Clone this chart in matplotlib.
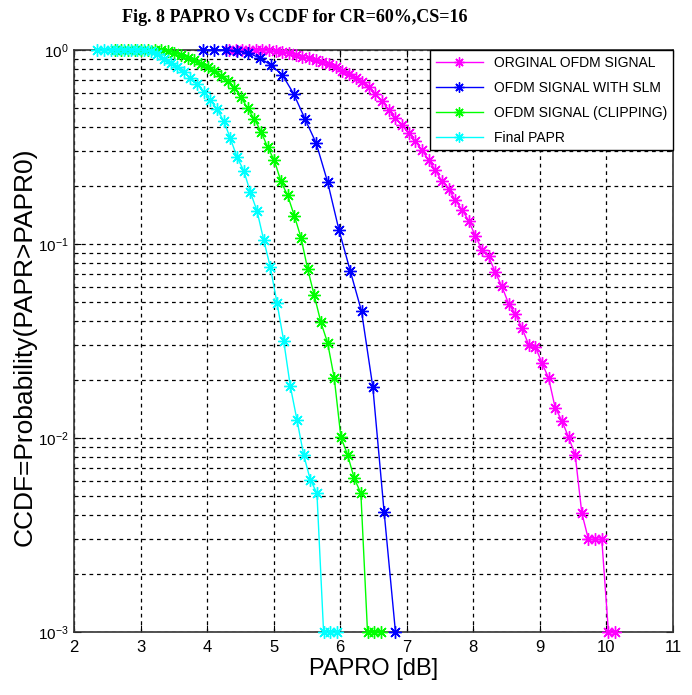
import matplotlib
matplotlib.use("Agg")
import matplotlib.pyplot as plt
from matplotlib.ticker import LogLocator, NullFormatter, FixedLocator

# ---------------- data ----------------
orig_x = [4.33, 4.43, 4.53, 4.63, 4.73, 4.83, 4.93, 5.03, 5.13, 5.23, 5.33, 5.43,
          5.53, 5.63, 5.73, 5.83, 5.93, 6.03, 6.13, 6.23, 6.33, 6.43, 6.53, 6.63,
          6.73, 6.83, 6.93, 7.03, 7.13, 7.23, 7.33, 7.43, 7.53, 7.63, 7.73, 7.83,
          7.93, 8.03, 8.13, 8.23, 8.33, 8.43, 8.53, 8.63, 8.73, 8.83, 8.93, 9.03,
          9.13, 9.23, 9.33, 9.43, 9.53, 9.63, 9.73, 9.83, 9.93, 10.03, 10.13]
orig_y = [1.0, 1.0, 1.0, 1.0, 1.0, 1.0, 0.995, 0.99, 0.98, 0.965, 0.945, 0.925,
          0.905, 0.89, 0.87, 0.845, 0.815, 0.78, 0.75, 0.715, 0.68, 0.645, 0.59, 0.545,
          0.49, 0.446, 0.41, 0.374, 0.338, 0.304, 0.27, 0.24, 0.21, 0.192, 0.168, 0.150,
          0.132, 0.110, 0.0935, 0.0863, 0.0714, 0.0604, 0.0492, 0.0437, 0.0370, 0.0303, 0.0296, 0.0244,
          0.0204, 0.0143, 0.0123, 0.0101, 0.0082, 0.0041, 0.003, 0.003, 0.003, 0.001, 0.001]

slm_x = [3.94, 4.11, 4.28, 4.45, 4.62, 4.79, 4.96, 5.13, 5.30, 5.47, 5.64, 5.81,
         5.98, 6.15, 6.32, 6.49, 6.66, 6.83]
slm_y = [1.0, 1.0, 1.0, 0.99, 0.965, 0.91, 0.835, 0.745, 0.595, 0.442, 0.33, 0.209,
         0.1185, 0.0728, 0.045, 0.0183, 0.00414, 0.001]

clip_x = [2.61, 2.71, 2.81, 2.91, 3.01, 3.11, 3.21, 3.31, 3.41, 3.51, 3.61, 3.71,
          3.81, 3.91, 4.01, 4.11, 4.21, 4.31, 4.41, 4.51, 4.61, 4.71, 4.81, 4.91,
          5.01, 5.11, 5.21, 5.31, 5.41, 5.51, 5.61, 5.71, 5.81, 5.91, 6.01, 6.11,
          6.21, 6.31, 6.41, 6.51, 6.61]
clip_y = [1.0, 1.0, 1.0, 1.0, 1.0, 1.0, 1.0, 1.0, 0.99, 0.97, 0.94, 0.91,
          0.885, 0.85, 0.815, 0.775, 0.735, 0.69, 0.64, 0.57, 0.50, 0.44, 0.38, 0.315,
          0.27, 0.21, 0.178, 0.14, 0.108, 0.0746, 0.0543, 0.0394, 0.031, 0.0204, 0.0101, 0.0082,
          0.0062, 0.0052, 0.001, 0.001, 0.001]

final_x = [2.35, 2.45, 2.55, 2.65, 2.75, 2.85, 2.95, 3.05, 3.15, 3.25, 3.35, 3.45,
           3.55, 3.65, 3.75, 3.85, 3.95, 4.05, 4.15, 4.25, 4.35, 4.45, 4.55, 4.65,
           4.75, 4.85, 4.95, 5.05, 5.15, 5.25, 5.35, 5.45, 5.55, 5.65, 5.75, 5.85, 5.95]
final_y = [1.0, 1.0, 1.0, 1.0, 1.0, 1.0, 1.0, 0.995, 0.985, 0.955, 0.90, 0.86,
           0.82, 0.77, 0.72, 0.665, 0.61, 0.55, 0.495, 0.43, 0.35, 0.28, 0.239, 0.185,
           0.148, 0.105, 0.076, 0.0497, 0.0318, 0.0185, 0.0124, 0.0082, 0.0061, 0.0052, 0.001, 0.001, 0.001]

labels = ["ORGINAL OFDM SIGNAL", "OFDM SIGNAL WITH SLM", "OFDM SIGNAL (CLIPPING)", "Final PAPR"]
colors = ["#ff00ff", "#0000ff", "#00ff00", "#00ffff"]
x_ticks = [2, 3, 4, 5, 6, 7, 8, 9, 10, 11]

# ---------------- figure ----------------
plt.rcParams['font.family'] = ['Liberation Sans', 'DejaVu Sans']
fig = plt.figure(figsize=(6.92, 6.95), dpi=100)
ax = fig.add_axes([74/692, 1 - 632/695, (673-74)/692, (632-50)/695])

asterisk = (8, 2, 0)
series = [(orig_x, orig_y), (slm_x, slm_y), (clip_x, clip_y), (final_x, final_y)]
for (xs, ys), c, lab in zip(series, colors, labels):
    ax.semilogy(xs, ys, color=c, marker=asterisk, markersize=9, linewidth=1.0,
                markeredgewidth=1.0, label=lab, clip_on=False, zorder=3)

ax.set_xlim(2, 11)
ax.set_ylim(1e-3, 1)
ax.xaxis.set_major_locator(FixedLocator(x_ticks))
ax.set_xticklabels([str(t) for t in x_ticks])
ax.yaxis.set_major_locator(LogLocator(base=10, numticks=10))
ax.yaxis.set_minor_locator(LogLocator(base=10, subs=[2, 3, 4, 5, 6, 7, 8, 9], numticks=20))
ax.yaxis.set_minor_formatter(NullFormatter())

ax.grid(True, which='major', color='black', linestyle=(0, (3, 3)), linewidth=0.9)
ax.grid(True, which='minor', axis='y', color='black', linestyle=(0, (3, 3)), linewidth=0.9)
ax.tick_params(which='both', direction='in', top=True, right=True)
ax.tick_params(axis='x', labelsize=12, pad=6)
ax.tick_params(axis='y', labelsize=11, pad=4)
ax.tick_params(which='minor', length=3)
ax.tick_params(which='major', length=5)
for sp in ax.spines.values():
    sp.set_linewidth(1.2)
    sp.set_color('#333333')

ax.set_xlabel("PAPRO [dB]", fontsize=17)
ax.xaxis.set_label_coords(0.5, -0.045)
ax.set_ylabel("CCDF=Probability(PAPR>PAPR0)", fontsize=19)
ax.yaxis.set_label_coords(-0.063, 0.49)

leg = ax.legend(loc='upper right', bbox_to_anchor=(1.0, 1.0), borderaxespad=0.0,
                fontsize=10, fancybox=False, framealpha=1, edgecolor='black',
                handlelength=3.4, labelspacing=0.8, markerscale=0.8)
leg.get_frame().set_linewidth(1.0)

fig.text(295/692, 1 - 18/695, "Fig. 8 PAPRO Vs CCDF for CR=60%,CS=16",
         ha='center', va='center', fontsize=13, fontweight='bold', family='Liberation Serif')

fig.savefig("out.png", dpi=100)
